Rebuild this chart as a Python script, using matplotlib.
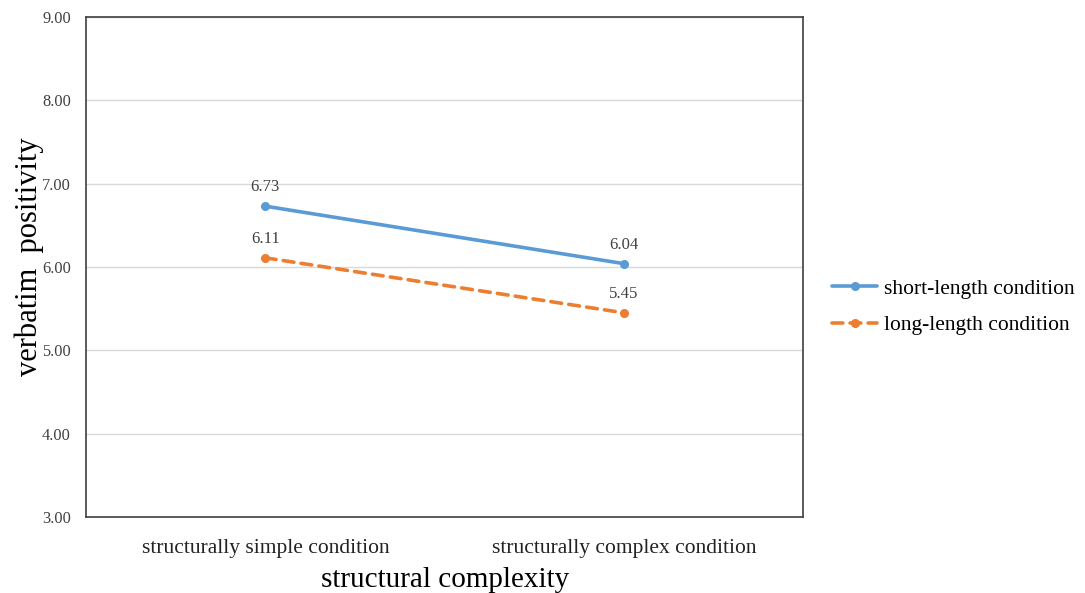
import matplotlib
matplotlib.use("Agg")
import matplotlib.pyplot as plt

categories = ["structurally simple condition", "structurally complex condition"]
short_vals = [6.73, 6.04]
long_vals = [6.11, 5.45]
series_names = ["short-length condition", "long-length condition"]
yticks = [3.0, 4.0, 5.0, 6.0, 7.0, 8.0, 9.0]

plt.rcParams['font.family'] = ['Liberation Serif', 'DejaVu Serif']

fig = plt.figure(figsize=(10.85, 5.93), dpi=100)
ax = fig.add_axes([0.0793, 0.1282, 0.661, 0.8431])

x = [0.5, 1.5]
ax.plot(x, short_vals, color="#5B9BD5", lw=2.6, marker="o", ms=5.5,
        label=series_names[0], solid_capstyle="round")
ax.plot(x, long_vals, color="#ED7D31", lw=2.6, ls=(0, (3, 2)), marker="o", ms=5.5,
        label=series_names[1], dash_capstyle="round")

for xi, v in zip(x, short_vals):
    ax.annotate(f"{v:.2f}", (xi, v), xytext=(0, 8), textcoords="offset points",
                ha="center", va="bottom", fontsize=12, color="#404040")
for xi, v in zip(x, long_vals):
    ax.annotate(f"{v:.2f}", (xi, v), xytext=(0, 8), textcoords="offset points",
                ha="center", va="bottom", fontsize=12, color="#404040")

ax.set_xlim(0, 2)
ax.set_ylim(3, 9)
ax.set_yticks(yticks)
ax.set_yticklabels([f"{t:.2f}" for t in yticks], fontsize=11.8, color="#404040")
ax.set_xticks(x)
ax.set_xticklabels(categories, fontsize=15.5, color="#222222")
ax.tick_params(axis="both", length=0)
ax.tick_params(axis="y", pad=11)
ax.tick_params(axis="x", pad=16)
ax.grid(axis="y", color="#D9D9D9", lw=1)
ax.set_axisbelow(True)
for s in ax.spines.values():
    s.set_color("#404040")
    s.set_linewidth(1.2)

ax.set_xlabel("structural complexity", fontsize=21, labelpad=6)
ax.set_ylabel("verbatim  positivity", fontsize=22)
ax.yaxis.set_label_coords(-0.058, 0.52)

leg = ax.legend(loc="center left", bbox_to_anchor=(1.013, 0.42), frameon=False,
                fontsize=15.5, handlelength=2.1, handletextpad=0.3, labelspacing=0.75)

fig.savefig("out.png", dpi=100)
